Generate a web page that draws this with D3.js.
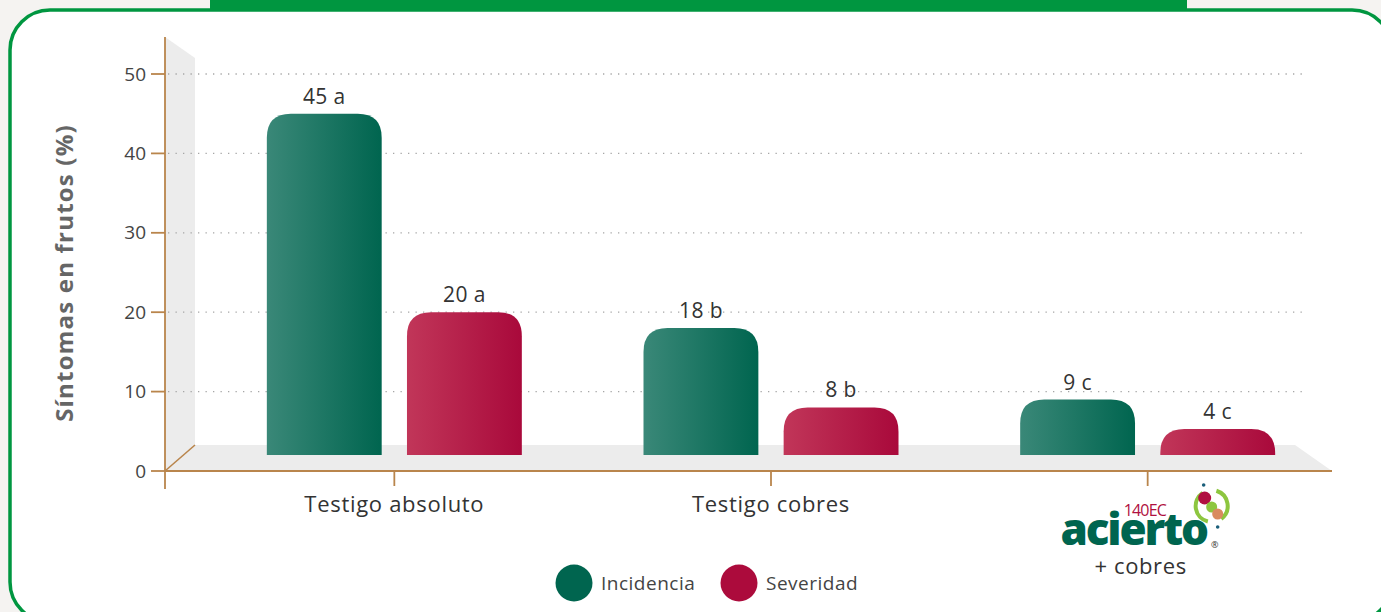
<!DOCTYPE html>
<html>
<head>
<meta charset="utf-8">
<script src="https://cdn.jsdelivr.net/npm/d3@7"></script>
<style>
  html, body { margin: 0; padding: 0; background: #f5f3f1; }
  svg { display: block; font-family: "Open Sans", Lato, sans-serif; }
</style>
</head>
<body>
<div class="chart"></div>
<script>
(function() {
  // data
  var categories = ["Testigo absoluto", "Testigo cobres", "acierto + cobres"];
  var series = ["Incidencia", "Severidad"];
  var incidencia = [45, 18, 9];
  var severidad = [20, 8, 4];
  var incidenciaLetters = ["a", "b", "c"];
  var severidadLetters = ["a", "b", "c"];
  var yTicks = [0, 10, 20, 30, 40, 50];

  var width = 1381, height = 612;
  var x0 = 165, y0 = 471, depth = { x: 30, y: -26 };
  var floorY = 455;

  var svg = d3.select(".chart").append("svg")
    .attr("width", width)
    .attr("height", height);

  var defs = svg.append("defs");
  function grad(id, c1, c2) {
    var lg = defs.append("linearGradient").attr("id", id)
      .attr("x1", "0%").attr("x2", "100%").attr("y1", "0%").attr("y2", "0%");
    lg.append("stop").attr("offset", "0%").attr("stop-color", c1);
    lg.append("stop").attr("offset", "100%").attr("stop-color", c2);
  }
  grad("gGreen", "#3a8878", "#00654f");
  grad("gRed", "#c13659", "#a9093b");

  // frame
  svg.append("rect").attr("x", 210).attr("y", 0).attr("width", 977).attr("height", 10).attr("fill", "#009640");
  svg.append("rect")
    .attr("x", 10).attr("y", 10).attr("width", 1382).attr("height", 612)
    .attr("rx", 40).attr("fill", "#fff").attr("stroke", "#009640").attr("stroke-width", 3.5);

  var y = d3.scaleLinear().domain([0, 50]).range([y0, 74]);
  var x = d3.scaleBand().domain(categories).range([206, 1336]).padding(0);
  var xs = d3.scaleBand().domain(series).range([-127.5, 127.5]).paddingInner(23 / 255 * 2).paddingOuter(0);

  var g = svg.append("g");

  // back wall and floor
  g.append("path")
    .attr("d", "M" + x0 + ",37L" + (x0 + depth.x) + ",58L" + (x0 + depth.x) + "," + (y0 + depth.y) + "L" + x0 + "," + y0 + "Z")
    .attr("fill", "#ececec");
  g.append("path")
    .attr("d", "M" + x0 + "," + y0 + "L" + (x0 + depth.x) + "," + (y0 + depth.y) + "L1295," + (y0 + depth.y) + "L1332," + y0 + "Z")
    .attr("fill", "#ececec");

  // grid
  g.selectAll(".grid").data(yTicks.filter(function(d) { return d > 0; }))
    .enter().append("line")
    .attr("x1", 168).attr("x2", 1307)
    .attr("y1", function(d) { return y(d); }).attr("y2", function(d) { return y(d); })
    .attr("stroke", "#a6a6a6").attr("stroke-width", 1.3)
    .attr("stroke-dasharray", "1.3,6.2");

  // axes
  var axisColor = "#b9854c";
  g.append("line").attr("x1", x0).attr("x2", x0).attr("y1", 37).attr("y2", 489)
    .attr("stroke", axisColor).attr("stroke-width", 1.8);
  g.append("line").attr("x1", x0).attr("x2", 1332).attr("y1", y0).attr("y2", y0)
    .attr("stroke", axisColor).attr("stroke-width", 1.8);
  g.append("line").attr("x1", x0).attr("x2", x0 + depth.x).attr("y1", y0).attr("y2", y0 + depth.y)
    .attr("stroke", axisColor).attr("stroke-width", 1.6);

  var yt = g.selectAll(".yt").data(yTicks).enter().append("g")
    .attr("transform", function(d) { return "translate(0," + y(d) + ")"; });
  yt.append("line").attr("x1", 151).attr("x2", x0).attr("stroke", axisColor).attr("stroke-width", 1.8);
  yt.append("text").attr("x", 146).attr("dy", "0.35em").attr("text-anchor", "end")
    .attr("font-size", 19).attr("fill", "#444").text(function(d) { return d; });

  g.selectAll(".xt").data(categories).enter().append("line")
    .attr("x1", function(d) { return x(d) + x.bandwidth() / 2; })
    .attr("x2", function(d) { return x(d) + x.bandwidth() / 2; })
    .attr("y1", y0).attr("y2", 486)
    .attr("stroke", axisColor).attr("stroke-width", 1.8);

  // y title
  svg.append("text")
    .attr("transform", "translate(73,273) rotate(-90)")
    .attr("text-anchor", "middle").attr("font-size", 24).attr("font-weight", "bold")
    .attr("letter-spacing", 1.2)
    .attr("fill", "#666").text("Síntomas en frutos (%)");

  // bars
  function barPath(x1, w, top, bottom, r) {
    r = Math.min(r, (bottom - top));
    return "M" + x1 + "," + bottom +
      "V" + (top + r) +
      "Q" + x1 + "," + top + " " + (x1 + r) + "," + top +
      "H" + (x1 + w - r) +
      "Q" + (x1 + w) + "," + top + " " + (x1 + w) + "," + (top + r) +
      "V" + bottom + "Z";
  }
  var rows = [];
  categories.forEach(function(c, i) {
    rows.push({ cat: c, s: "Incidencia", v: incidencia[i], l: incidenciaLetters[i], fill: "url(#gGreen)" });
    rows.push({ cat: c, s: "Severidad", v: severidad[i], l: severidadLetters[i], fill: "url(#gRed)" });
  });
  var bw = xs.bandwidth();
  var bars = g.selectAll(".bar").data(rows).enter().append("g");
  bars.append("path")
    .attr("d", function(d) {
      var cx = x(d.cat) + x.bandwidth() / 2 + xs(d.s);
      var top = Math.min(y(d.v), floorY - 26);
      return barPath(cx, bw, top, floorY, 24);
    })
    .attr("fill", function(d) { return d.fill; });
  bars.append("text")
    .attr("x", function(d) { return x(d.cat) + x.bandwidth() / 2 + xs(d.s) + bw / 2; })
    .attr("y", function(d) { return Math.min(y(d.v), floorY - 26) - 10; })
    .attr("text-anchor", "middle").attr("font-size", 21).attr("letter-spacing", 0.4).attr("fill", "#333")
    .text(function(d) { return d.v + " " + d.l; });

  // x labels
  categories.slice(0, 2).forEach(function(c) {
    g.append("text").attr("x", x(c) + x.bandwidth() / 2).attr("y", 512)
      .attr("text-anchor", "middle").attr("font-size", 22).attr("letter-spacing", 0.7)
      .attr("fill", "#333").text(c);
  });

  // acierto logo
  var lx = x(categories[2]) + x.bandwidth() / 2;
  var logo = g.append("g").attr("transform", "translate(" + lx + ",0)");
  logo.append("text").attr("x", -14).attr("y", 545).attr("text-anchor", "middle")
    .attr("font-size", 44).attr("font-weight", "800").attr("letter-spacing", -2.2)
    .attr("fill", "#00654f").text("acierto");
  logo.append("text").attr("x", -24).attr("y", 516).attr("font-size", 16).attr("letter-spacing", -0.8)
    .attr("fill", "#b01040").text("140EC");
  logo.append("text").attr("x", 67).attr("y", 548).attr("text-anchor", "middle").attr("font-size", 9)
    .attr("fill", "#333").text("®");
  var arc = d3.arc();
  logo.append("path").attr("transform", "translate(64,506)")
    .attr("d", arc({ innerRadius: 14, outerRadius: 18, startAngle: -2.9, endAngle: -0.6 }))
    .attr("fill", "#8dc63f");
  logo.append("path").attr("transform", "translate(64,506)")
    .attr("d", arc({ innerRadius: 14, outerRadius: 18, startAngle: 0.3, endAngle: 2.5 }))
    .attr("fill", "#8dc63f");
  logo.append("circle").attr("cx", 57).attr("cy", 498).attr("r", 6.5).attr("fill", "#b01040");
  logo.append("circle").attr("cx", 64).attr("cy", 507).attr("r", 5.5).attr("fill", "#8dc63f");
  logo.append("circle").attr("cx", 70).attr("cy", 514).attr("r", 5.5).attr("fill", "#d98b5f");
  logo.append("circle").attr("cx", 56).attr("cy", 485).attr("r", 1.8).attr("fill", "#1a5e7a");
  logo.append("circle").attr("cx", 70).attr("cy", 527).attr("r", 1.8).attr("fill", "#1a5e7a");
  logo.append("text").attr("x", -7).attr("y", 574).attr("text-anchor", "middle")
    .attr("font-size", 22).attr("letter-spacing", 0.6).attr("fill", "#333").text("+ cobres");

  // legend
  var legendColors = ["#00654f", "#ac0b3c"];
  var legendX = [574, 739];
  var lg = svg.selectAll(".legend").data(series).enter().append("g")
    .attr("transform", function(d, i) { return "translate(" + legendX[i] + ",583)"; });
  lg.append("circle").attr("r", 18.5).attr("fill", function(d, i) { return legendColors[i]; });
  lg.append("text").attr("x", 27).attr("dy", "0.35em").attr("font-size", 19).attr("letter-spacing", 0.5)
    .attr("fill", "#444").text(function(d) { return d; });
})();
</script>
</body>
</html>
